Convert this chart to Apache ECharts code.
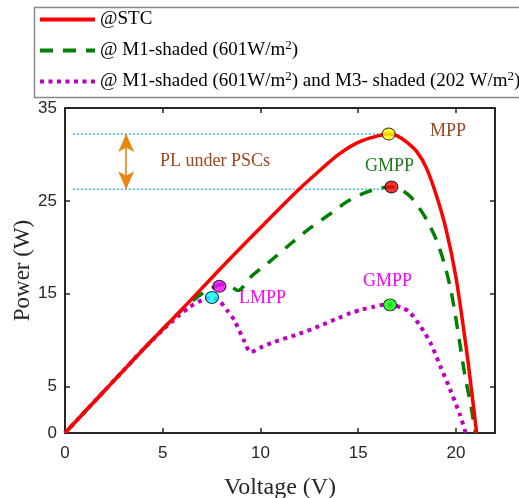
<!DOCTYPE html>
<html>
<head>
<meta charset="utf-8">
<script src="https://cdn.jsdelivr.net/npm/echarts@6/dist/echarts.min.js"></script>
<style>
html, body { margin: 0; padding: 0; background: #fff; }
#chart { width: 519px; height: 498px; }
</style>
</head>
<body>
<div id="chart"></div>
<script>
// P-V curves
var stcV = [0, 2, 4, 6, 8, 10, 12, 13, 14, 15, 16, 16.6, 17, 17.5, 18, 18.5, 19, 19.5, 20, 20.5, 20.8, 21.06];
var stcP = [0, 4.5, 9.0, 13.35, 17.8, 22.1, 26.3, 28.2, 30.0, 31.3, 32.0, 32.2, 32.0, 31.3, 30.3, 28.5, 25.6, 21.9, 16.8, 9.6, 4.6, 0];

var m1V = [0, 2, 4, 6, 7, 7.5, 8.0, 8.4, 8.85, 9.5, 10.5, 11.5, 12.5, 13.5, 14.5, 15.5, 16.2, 16.7, 17.2, 17.7, 18.2, 18.6, 19.0, 19.4, 19.74, 19.93, 20.19, 20.45, 20.77, 21.0];
var m1P = [0, 4.5, 9.0, 13.3, 15.0, 15.6, 16.0, 15.9, 15.35, 16.8, 18.5, 20.3, 22.0, 23.5, 25.0, 26.0, 26.4, 26.5, 26.2, 25.4, 24.0, 22.6, 20.8, 18.3, 15.4, 13.2, 9.8, 6.35, 2.9, 0];

var m3V = [0, 2, 4, 5, 5.8, 6.4, 7.0, 7.5, 7.95, 8.3, 8.65, 9.15, 9.5, 10.0, 10.7, 12.0, 13.0, 14.0, 14.6, 15.2, 15.8, 16.3, 16.7, 17.2, 17.6, 18.2, 18.7, 19.2, 19.7, 20.2, 20.5];
var m3P = [0, 4.5, 9.0, 11.1, 12.6, 13.6, 14.3, 14.6, 14.1, 13.2, 12.2, 10.0, 8.7, 9.2, 9.8, 10.7, 11.5, 12.4, 12.9, 13.3, 13.6, 13.8, 13.8, 13.5, 13.1, 11.45, 9.7, 7.2, 4.7, 2.0, 0];

// MPP / GMPP / LMPP markers
var mppV = [16.56, 16.7, 7.9, 7.52, 16.63];
var mppP = [32.2, 26.5, 15.8, 14.6, 13.8];
var mppColors = ['#ffff00', '#ff0000', '#ff00ff', '#00ffff', '#00ff00'];

// power loss reference levels
var refStart = 0.4;
var refEnd = [16.5, 16.6];
var refP = [32.2, 26.25];
var arrowV = 3.13;

var xTicks = [0, 5, 10, 15, 20];
var yTicks = [0, 5, 15, 25, 35];

var names = ['@STC', '@ M1-shaded (601W/m2)', '@ M1-shaded (601W/m2) and M3- shaded (202 W/m2)'];
var legendTexts = ['@STC', '@ M1-shaded (601W/m{sup|2})', '@ M1-shaded (601W/m{sup|2}) and M3- shaded (202 W/m{sup|2})'];

function zip(xs, ys) {
	return xs.map(function (x, i) { return [x, ys[i]]; });
}

var axisColor = '#262626';
var serif = 'Liberation Serif';

var chart = echarts.init(document.getElementById('chart'));

var xBase = {
	type: 'value', min: 0, max: 22, interval: 5,
	axisLine: { show: true, onZero: false, lineStyle: { color: axisColor, width: 2 } },
	axisTick: { show: true, inside: true, length: 5, customValues: xTicks, lineStyle: { color: axisColor, width: 1.5 } },
	splitLine: { show: false }
};
var yBase = {
	type: 'value', min: 0, max: 35, interval: 5,
	axisLine: { show: true, onZero: false, lineStyle: { color: axisColor, width: 2 } },
	axisTick: { show: true, inside: true, length: 5, customValues: yTicks, lineStyle: { color: axisColor, width: 1.5 } },
	splitLine: { show: false }
};

var option = {
	animation: false,
	backgroundColor: '#fff',
	grid: { left: 65, right: 24, top: 108, bottom: 65, outerBoundsMode: 'none' },
	legend: {
		data: names,
		orient: 'vertical',
		left: 32, top: 5,
		padding: [3, 6, 2, 6],
		itemWidth: 55, itemHeight: 14, itemGap: 8,
		borderWidth: 0,
		itemStyle: { opacity: 0, borderWidth: 0 },
		lineStyle: { width: 4 },
		formatter: function (name) { return legendTexts[names.indexOf(name)]; },
		textStyle: {
			fontFamily: serif, fontSize: 19, color: '#000', lineHeight: 23,
			rich: { sup: { fontFamily: serif, fontSize: 13, lineHeight: 13, verticalAlign: 'top', color: '#000' } }
		}
	},
	xAxis: [
		Object.assign({}, xBase, {
			position: 'bottom',
			name: 'Voltage (V)', nameLocation: 'middle', nameGap: 43,
			nameTextStyle: { fontFamily: serif, fontSize: 24, color: axisColor },
			axisLabel: { customValues: xTicks, fontFamily: 'Liberation Sans', fontSize: 17, color: axisColor, margin: 12 }
		}),
		Object.assign({}, xBase, { position: 'top', axisLabel: { show: false } })
	],
	yAxis: [
		Object.assign({}, yBase, {
			position: 'left',
			name: 'Power (W)', nameLocation: 'middle', nameGap: 31, nameMoveOverlap: false,
			nameTextStyle: { fontFamily: serif, fontSize: 23, color: axisColor },
			axisLabel: { customValues: yTicks, fontFamily: 'Liberation Sans', fontSize: 17, color: axisColor, margin: 8 }
		}),
		Object.assign({}, yBase, { position: 'right', axisLabel: { show: false } })
	],
	series: [
		{
			type: 'line', name: 'ref1', data: [[refStart, refP[0]], [refEnd[0], refP[0]]],
			symbol: 'none', silent: true, z: 1,
			lineStyle: { color: '#4fb8ea', width: 1.7, type: [2, 2] },
			markLine: {
				silent: true, symbol: ['arrow', 'arrow'], symbolSize: [12, 18],
				label: { show: false },
				lineStyle: { color: '#e8860f', width: 1.6, type: 'solid' },
				data: [[{ coord: [arrowV, refP[0]] }, { coord: [arrowV, refP[1]] }]]
			}
		},
		{
			type: 'line', name: 'ref2', data: [[refStart, refP[1]], [refEnd[1], refP[1]]],
			symbol: 'none', silent: true, z: 1,
			lineStyle: { color: '#4fb8ea', width: 1.7, type: [2, 2] }
		},
		{
			type: 'line', name: names[0], data: zip(stcV, stcP),
			symbol: 'none', smooth: 0.3, z: 4,
			itemStyle: { color: '#ff0000' },
			lineStyle: { color: '#ff0000', width: 3.5 }
		},
		{
			type: 'line', name: names[1], data: zip(m1V, m1P),
			symbol: 'none', smooth: 0.3, z: 3,
			itemStyle: { color: '#008000' },
			lineStyle: { color: '#008000', width: 3.5, type: [13, 10] }
		},
		{
			type: 'line', name: names[2], data: zip(m3V, m3P),
			symbol: 'none', smooth: 0.25, z: 3,
			itemStyle: { color: '#c000c0' },
			lineStyle: { color: '#c000c0', width: 4, type: [4, 4.5] }
		},
		{
			type: 'scatter', name: 'points', z: 6,
			symbolSize: [13, 12],
			data: mppV.map(function (v, i) {
				return { value: [v, mppP[i]], itemStyle: { color: mppColors[i], borderColor: '#000', borderWidth: 1 } };
			})
		}
	],
	graphic: [
		// legend frame runs past the right edge of the picture
		{ type: 'rect', left: 32, top: 5, shape: { width: 540, height: 90 }, style: { fill: null, stroke: '#888', lineWidth: 1.5 }, z: -1 },
		{ type: 'text', x: 160, y: 161, style: { text: 'PL under PSCs', font: '18px "Liberation Serif"', fill: '#a0461e', verticalAlign: 'middle' } },
		{ type: 'text', x: 430, y: 131, style: { text: 'MPP', font: '18px "Liberation Serif"', fill: '#a0461e', verticalAlign: 'middle' } },
		{ type: 'text', x: 365, y: 166, style: { text: 'GMPP', font: '18px "Liberation Serif"', fill: '#1a801a', verticalAlign: 'middle' } },
		{ type: 'text', x: 363, y: 281, style: { text: 'GMPP', font: '18px "Liberation Serif"', fill: '#ff00ff', verticalAlign: 'middle' } },
		{ type: 'text', x: 239, y: 298, style: { text: 'LMPP', font: '18px "Liberation Serif"', fill: '#ff00ff', verticalAlign: 'middle' } }
	]
};

chart.setOption(option);
</script>
</body>
</html>
